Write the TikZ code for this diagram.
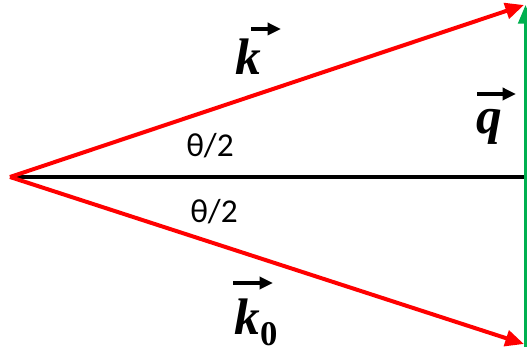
\documentclass[tikz,border=0pt]{standalone}
\usepackage{fontspec}
\setmainfont{Liberation Serif}
\newfontfamily\calfont{Carlito}
\usetikzlibrary{arrows.meta,calc}
\definecolor{pptgreen}{RGB}{0,176,80}
\tikzset{
  vec/.style={red, line width=3pt, -{Triangle[length=14pt,width=12pt]}},
  axis/.style={black, line width=2.3pt},
  qvec/.style={pptgreen, line width=2.2pt, -{Triangle[length=14pt,width=11pt]}},
  over/.style={black, line width=2.6pt, -{Triangle[length=10pt,width=9pt]}},
  biglbl/.style={font=\fontsize{38.5}{40}\selectfont\bfseries\itshape, inner sep=0pt, anchor=base},
  anglbl/.style={font=\calfont\fontsize{25}{28}\selectfont, inner sep=0pt, anchor=base}
}
\begin{document}
\begin{tikzpicture}[x=0.75pt,y=-0.75pt]
\useasboundingbox (0,0) rectangle (527,352);
\coordinate (O) at (10,177);
\coordinate (A) at (524,5);
\coordinate (B) at (524,344);
\coordinate (E) at (527,177);
\coordinate (G1) at (525.5,347);
\coordinate (G2) at (525.5,5);
\draw[axis] (O) -- (E);
\draw[qvec] (G1) -- (G2);
\draw[vec] (O) -- (A);
\draw[vec] (O) -- (B);
\node[biglbl] (k) at (248,75) {k};
\node[biglbl] (q) at (489,134) {q};
\node[biglbl] (k0) at (256,334) {k\raisebox{-8.5pt}{\fontsize{26}{28}\selectfont\upshape 0}};
\draw[over] ($(k.base)+(3,-46)$) -- ($(k.base)+(33,-46)$);
\draw[over] ($(q.base)+(-12,-40)$) -- ($(q.base)+(27,-40)$);
\draw[over] ($(k0.base)+(-23,-51)$) -- ($(k0.base)+(17,-51)$);
\node[anglbl] (t1) at (210,157) {θ/2};
\node[anglbl] (t2) at (214,223) {θ/2};
\end{tikzpicture}
\end{document}
